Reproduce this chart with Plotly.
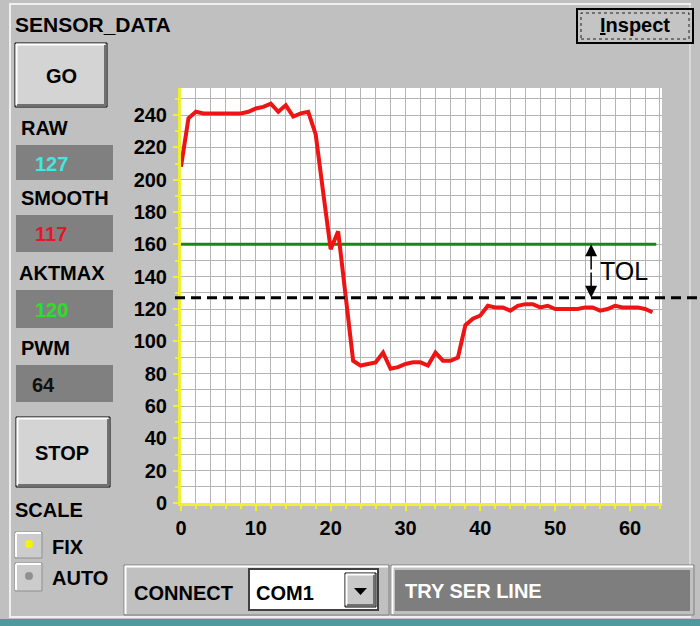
import plotly.graph_objects as go

W, H = 700, 626

# ---- data ----
x_samples = list(range(64))
smooth_values = [208, 238, 242, 241, 241, 241, 241, 241, 241, 242,
                 244, 245, 247, 242, 246, 239, 241, 242, 228, 192,
                 157, 168, 127, 88, 85, 86, 87, 93, 83, 84,
                 86, 87, 87, 85, 93, 88, 88, 90, 110, 114,
                 116, 122, 121, 121, 119, 122, 123, 123, 121, 122,
                 120, 120, 120, 120, 121, 121, 119, 120, 122, 121,
                 121, 121, 120, 118]
raw_level = 127          # dashed line
tol_upper = 160          # green line (AKTMAX + TOL)
x_tick_vals = [0, 10, 20, 30, 40, 50, 60]
y_tick_vals = [0, 20, 40, 60, 80, 100, 120, 140, 160, 180, 200, 220, 240]
panel_labels = ["RAW", "SMOOTH", "AKTMAX", "PWM"]
panel_values = ["127", "117", "120", "64"]

FONT = "Liberation Sans, Arial, sans-serif"
BG = "#c0c0c0"

shapes = []
annotations = []


def px(x):
    return x / W


def py(y):
    return 1 - y / H


def rect(x0, y0, x1, y1, fill, lc=None, lw=0, dash=None):
    line = dict(width=lw, color=lc if lc else fill)
    if dash:
        line["dash"] = dash
    shapes.append(dict(type="rect", xref="paper", yref="paper",
                       x0=px(x0), x1=px(x1), y0=py(y1), y1=py(y0),
                       fillcolor=fill, line=line, layer="above"))


def hline(x0, x1, y, color, w=1):
    shapes.append(dict(type="line", xref="paper", yref="paper",
                       x0=px(x0), x1=px(x1), y0=py(y), y1=py(y),
                       line=dict(color=color, width=w), layer="above"))


def vline(x, y0, y1, color, w=1):
    shapes.append(dict(type="line", xref="paper", yref="paper",
                       x0=px(x), x1=px(x), y0=py(y0), y1=py(y1),
                       line=dict(color=color, width=w), layer="above"))


def text(t, x, y, size=20, color="black", anchor="left", bold=True, family=FONT):
    annotations.append(dict(text=t, xref="paper", yref="paper",
                            x=px(x), y=py(y), xanchor=anchor, yanchor="middle",
                            showarrow=False, borderpad=0,
                            font=dict(family=family, size=size, color=color,
                                      weight="bold" if bold else "normal")))


def button(x0, y0, x1, y1, face="#d4d4d4"):
    rect(x0, y0, x1, y1, face, "#000000", 1)
    hline(x0 + 1, x1 - 2, y0 + 1.5, "#ffffff", 2)
    vline(x0 + 1.5, y0 + 1, y1 - 2, "#ffffff", 2)
    hline(x0 + 2, x1 - 1, y1 - 2, "#707070", 2)
    vline(x1 - 2, y0 + 2, y1 - 1, "#707070", 2)


# ---- window frame ----
hline(9, 691, 4, "#f0f0f0", 2)
vline(10, 4, 617, "#f0f0f0", 2)
vline(690, 4, 617, "#f0f0f0", 1)
hline(9, 691, 617, "#f0f0f0", 2)
rect(0, 619, 700, 626, "#4f9a9c")

# ---- title and Inspect button ----
text("SENSOR_DATA", 14, 24, size=21)
rect(577, 9, 693, 43, "#c4c4c4", "#000000", 2)
rect(581, 13, 689, 39, "rgba(0,0,0,0)", "#202020", 1, dash="dot")
text("<u>I</u>nspect", 635, 25, size=20, anchor="center")

# ---- left panel ----
button(15, 43, 107, 107)
text("GO", 61, 76, size=20, anchor="center")

label_y = [128, 198, 273, 348]
box_y = [(145, 180), (215, 252), (290, 328), (365, 402)]
value_colors = ["#40e8e0", "#e01828", "#28e028", "#101010"]
value_x = [51, 51, 51, 43]
for lab, val, ly, (b0, b1), vc, vx in zip(panel_labels, panel_values, label_y,
                                          box_y, value_colors, value_x):
    text(lab, 18 if lab == "AKTMAX" else 20, ly, size=20)
    rect(16, b0, 113, b1, "#808080")
    text(val, vx, (b0 + b1) / 2 + 1, size=20, color=vc, anchor="center")

button(16, 417, 110, 487)
text("STOP", 62, 453, size=20, anchor="center")

text("SCALE", 14, 510, size=20)
# radio boxes
for (y0, y1), dot in [((532, 558), "#f4f400"), ((563, 591), "#909090")]:
    rect(15, y0, 42, y1, "#cccccc", "#909090", 1)
    hline(16, 41, y0 + 1, "#ffffff", 2)
    vline(16, y0 + 1, y1 - 1, "#ffffff", 2)
    cx, cy = 29, (y0 + y1) / 2 - 1
    shapes.append(dict(type="circle", xref="paper", yref="paper",
                       x0=px(cx - 4), x1=px(cx + 4), y0=py(cy + 4), y1=py(cy - 4),
                       fillcolor=dot, line=dict(width=0), layer="above"))
text("FIX", 51, 547, size=20)
text("AUTO", 51, 578, size=20)

# ---- bottom connect group ----
rect(124, 565, 389, 615, BG, "#808080", 1)
hline(125, 388, 566.5, "#ffffff", 2)
vline(125.5, 566, 614, "#ffffff", 2)
text("CONNECT", 133, 593, size=20)
rect(249, 569, 378, 610, "#ffffff", "#404040", 2)
button(345, 573, 376, 607, face="#c8c8c8")
shapes.append(dict(type="path", xref="paper", yref="paper",
                   path=f"M {px(354)} {py(588)} L {px(367)} {py(588)} L {px(360.5)} {py(595)} Z",
                   fillcolor="#000000", line=dict(width=0), layer="above"))
text("COM1", 255, 593, size=20)

# ---- status group ----
rect(391, 565, 694, 615, BG, "#808080", 1)
hline(392, 693, 566.5, "#ffffff", 2)
vline(392.5, 566, 614, "#ffffff", 2)
rect(395, 570, 690, 611, "#7e7e7e")
text("TRY SER LINE", 404, 591, size=20, color="#ffffff")

# ---- chart ----
fig = go.Figure()
fig.add_trace(go.Scatter(x=[0, 63.5], y=[tol_upper, tol_upper], mode="lines",
                         line=dict(color="#128a12", width=3), hoverinfo="skip"))
fig.add_trace(go.Scatter(x=x_samples, y=smooth_values, mode="lines",
                         line=dict(color="#ee1414", width=4)))

# dashed RAW line, extends past the plot to the window edge
shapes.append(dict(type="line", xref="paper", yref="y",
                   x0=px(175), x1=1.0, y0=raw_level, y1=raw_level,
                   line=dict(color="#000000", width=3, dash="10px,6px"),
                   layer="above"))

# TOL arrow
tol_x = 54.8
mid = (tol_upper + raw_level) / 2
for tip in (tol_upper, raw_level):
    annotations.append(dict(x=tol_x, y=tip, ax=tol_x, ay=mid, xref="x", yref="y",
                            axref="x", ayref="y", text="", showarrow=True,
                            arrowhead=2, arrowsize=1.6, arrowwidth=1.5,
                            arrowcolor="#000000"))
annotations.append(dict(x=tol_x + 0.9, y=mid, xref="x", yref="y", text="TOL",
                        showarrow=False, xanchor="left", yanchor="middle",
                        font=dict(family="Liberation Sans, Arial", size=25,
                                  color="#000000")))

yellow = "#eef030"
grid = "#b4b4b4"
fig.update_layout(
    width=W, height=H,
    margin=dict(l=0, r=0, t=0, b=0),
    paper_bgcolor=BG,
    plot_bgcolor="#ffffff",
    showlegend=False,
    shapes=shapes,
    annotations=annotations,
    xaxis=dict(domain=[181 / W, 662 / W], range=[0, 64.27],
               tickvals=x_tick_vals, ticks="outside", ticklen=5,
               tickcolor=yellow, tickwidth=2,
               showline=True, linecolor=yellow, linewidth=3,
               showgrid=True, gridcolor=grid, gridwidth=1, zeroline=False,
               minor=dict(dtick=2, tick0=0, showgrid=True, gridcolor=grid,
                          gridwidth=1, ticks="outside", ticklen=3,
                          tickcolor=yellow),
               tickfont=dict(family=FONT, size=20, color="#000000", weight="bold"),
               ticklabelstandoff=0, fixedrange=True, automargin=False),
    yaxis=dict(domain=[1 - 503 / H, 1 - 88 / H], range=[0, 256.7],
               tickvals=y_tick_vals, ticks="outside", ticklen=5,
               tickcolor=yellow, tickwidth=2,
               showline=True, linecolor=yellow, linewidth=3,
               showgrid=True, gridcolor=grid, gridwidth=1, zeroline=False,
               minor=dict(dtick=10, tick0=0, showgrid=True, gridcolor=grid,
                          gridwidth=1, ticks="outside", ticklen=3,
                          tickcolor=yellow),
               tickfont=dict(family=FONT, size=20, color="#000000", weight="bold"),
               ticklabelstandoff=2, fixedrange=True, automargin=False),
)

fig.write_html(
    "out.html",
    config={"displayModeBar": False, "responsive": False},
    post_script=("document.documentElement.style.margin='0';"
                 "document.body.style.margin='0';"
                 "document.body.style.padding='0';"
                 "document.documentElement.style.overflow='hidden';"
                 "document.body.style.overflow='hidden';"),
)
